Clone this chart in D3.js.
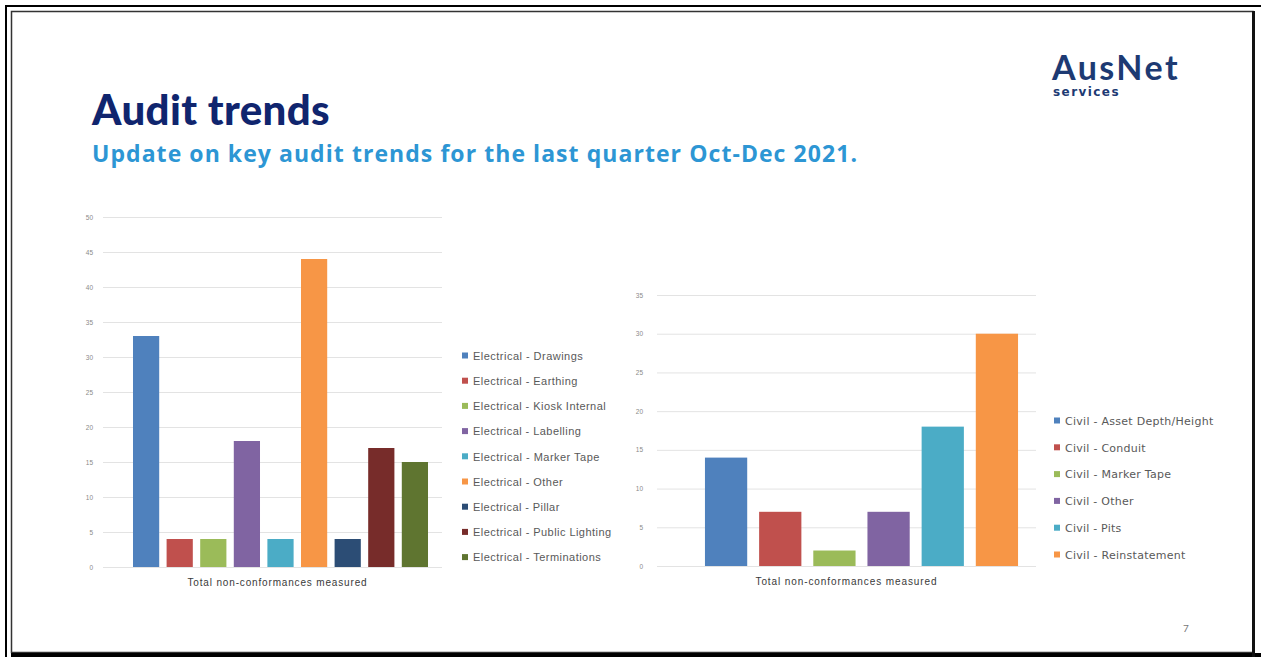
<!DOCTYPE html>
<html>
<head>
<meta charset="utf-8">
<script src="https://cdn.jsdelivr.net/npm/d3@7.9.0/dist/d3.min.js"></script>
<style>
  html, body { margin: 0; padding: 0; background: #fff; }
  svg { display: block; }
</style>
</head>
<body>
<svg id="slide" width="1261" height="657"></svg>
<script>
// left chart: electrical
const elecLabels = ['Electrical - Drawings', 'Electrical - Earthing', 'Electrical - Kiosk Internal',
  'Electrical - Labelling', 'Electrical - Marker Tape', 'Electrical - Other', 'Electrical - Pillar',
  'Electrical - Public Lighting', 'Electrical - Terminations'];
const elecValues = [33, 4, 4, 18, 4, 44, 4, 17, 15];
const elecTicks = [0, 5, 10, 15, 20, 25, 30, 35, 40, 45, 50];

// right chart: civil
const civilLabels = ['Civil - Asset Depth/Height', 'Civil - Conduit', 'Civil - Marker Tape',
  'Civil - Other', 'Civil - Pits', 'Civil - Reinstatement'];
const civilValues = [14, 7, 2, 7, 18, 30];
const civilTicks = [0, 5, 10, 15, 20, 25, 30, 35];

const category = 'Total non-conformances measured';
const officeColors = ['#4f81bd', '#c0504d', '#9bbb59', '#8064a2', '#4bacc6', '#f79646', '#2c4d75', '#772c2a', '#5f7530'];

const svg = d3.select('#slide');

// stretch a text to a target width with letter spacing
function fitWidth(sel, w) {
  const n = sel.text().length;
  const cur = sel.node().getComputedTextLength();
  sel.attr('letter-spacing', (w - cur) / n);
  return sel;
}

// slide frame
svg.append('line').attr('x1', 5).attr('x2', 1261).attr('y1', 6).attr('y2', 6).attr('stroke', '#000').attr('stroke-width', 2);
svg.append('line').attr('x1', 6).attr('x2', 6).attr('y1', 5).attr('y2', 657).attr('stroke', '#000').attr('stroke-width', 2);
svg.append('rect').attr('x', 11.5).attr('y', 11.5).attr('width', 1241.5).attr('height', 641)
  .attr('fill', 'none').attr('stroke', '#333').attr('stroke-width', 1.5);
svg.append('rect').attr('x', 11).attr('y', 653).attr('width', 1250).attr('height', 4).attr('fill', '#000');
svg.append('rect').attr('x', 1252).attr('y', 11).attr('width', 3).attr('height', 646).attr('fill', '#111');

// titles
const title = svg.append('text').attr('x', 92).attr('y', 125)
  .attr('font-family', 'Lato, sans-serif').attr('font-weight', 900).attr('font-size', 42)
  .attr('fill', '#10256e').text('Audit trends');
fitWidth(title, 238);
const sub = svg.append('text').attr('x', 92).attr('y', 162)
  .attr('font-family', 'Open Sans, sans-serif').attr('font-weight', 700).attr('font-size', 23)
  .attr('fill', '#2d96d4')
  .text('Update on key audit trends for the last quarter Oct-Dec 2021.');
fitWidth(sub, 766);

// logo
const logo = svg.append('text').attr('x', 1052).attr('y', 80)
  .attr('font-family', 'Lato, sans-serif').attr('font-weight', 700).attr('font-size', 34)
  .attr('fill', '#1d3a73').text('AusNet');
fitWidth(logo, 128);
const logoSub = svg.append('text').attr('x', 1053).attr('y', 96)
  .attr('font-family', 'DejaVu Sans, sans-serif').attr('font-weight', 700).attr('font-size', 12)
  .attr('fill', '#1d3a73').text('services');
fitWidth(logoSub, 67);

// page number
svg.append('text').attr('x', 1186).attr('y', 632)
  .attr('font-family', 'Lato, sans-serif').attr('font-size', 10).attr('fill', '#777')
  .attr('text-anchor', 'middle').text('7');

function drawChart(cfg) {
  const g = svg.append('g');
  const y = d3.scaleLinear().domain([0, cfg.max]).range([cfg.bottom, cfg.top]);

  const yAxis = g.append('g').attr('transform', `translate(${cfg.gridX0},0)`)
    .call(d3.axisLeft(y).tickValues(cfg.ticks).tickSize(-(cfg.gridX1 - cfg.gridX0)).tickPadding(cfg.tickPad));
  yAxis.select('.domain').remove();
  yAxis.selectAll('.tick line').attr('stroke', '#e3e3e3').attr('stroke-width', 1);
  yAxis.selectAll('.tick text').attr('fill', '#8a8a8a').attr('font-size', 6.5)
    .attr('font-family', 'Liberation Sans, sans-serif');

  const x0 = d3.scaleBand().domain([category]).range([cfg.gridX0, cfg.gridX1]);
  const x1 = d3.scaleBand().domain(cfg.labels).range(cfg.barRange)
    .paddingInner(cfg.pad).paddingOuter(cfg.pad / 2);

  g.selectAll('rect.bar').data(cfg.values).join('rect')
    .attr('class', 'bar')
    .attr('x', (d, i) => x1(cfg.labels[i]))
    .attr('width', x1.bandwidth())
    .attr('y', d => y(d))
    .attr('height', d => y(0) - y(d))
    .attr('fill', (d, i) => officeColors[i]);

  const axisLabel = g.append('text').attr('x', x0(category) + x0.bandwidth() / 2 + cfg.labelShift)
    .attr('y', cfg.bottom + 19)
    .attr('text-anchor', 'middle').attr('font-family', 'Liberation Sans, sans-serif')
    .attr('font-size', 10).attr('fill', '#3a3a3a').text(category);
  fitWidth(axisLabel, cfg.labelWidth);

  const legend = g.append('g');
  const rows = legend.selectAll('g').data(cfg.labels).join('g')
    .attr('transform', (d, i) => `translate(${cfg.legX},${cfg.legY + i * cfg.legStep})`);
  rows.append('rect').attr('x', 0).attr('y', -3.5).attr('width', 6).attr('height', 6)
    .attr('fill', (d, i) => officeColors[i]);
  rows.append('text').attr('x', 11).attr('y', 0).attr('dy', '0.35em')
    .attr('font-family', cfg.legFont).attr('font-size', cfg.legSize).attr('fill', '#595959')
    .text(d => d)
    .each(function () {
      const t = d3.select(this);
      fitWidth(t, t.node().getComputedTextLength() * cfg.legStretch);
    });
}

drawChart({
  labels: elecLabels, values: elecValues, ticks: elecTicks, max: 50,
  top: 217, bottom: 567, gridX0: 103, gridX1: 442, tickPad: 10,
  barRange: [129.3, 431.7], pad: 0.22, labelShift: 5, labelWidth: 180,
  legX: 462, legY: 356, legStep: 25.2, legFont: 'Liberation Sans, sans-serif', legSize: 11, legStretch: 1.1
});

drawChart({
  labels: civilLabels, values: civilValues, ticks: civilTicks, max: 35,
  top: 295, bottom: 566, gridX0: 657, gridX1: 1036, tickPad: 14,
  barRange: [699, 1024], pad: 0.22, labelShift: 0, labelWidth: 182,
  legX: 1054, legY: 421, legStep: 26.8, legFont: 'DejaVu Sans, sans-serif', legSize: 11, legStretch: 1.05
});
</script>
</body>
</html>
